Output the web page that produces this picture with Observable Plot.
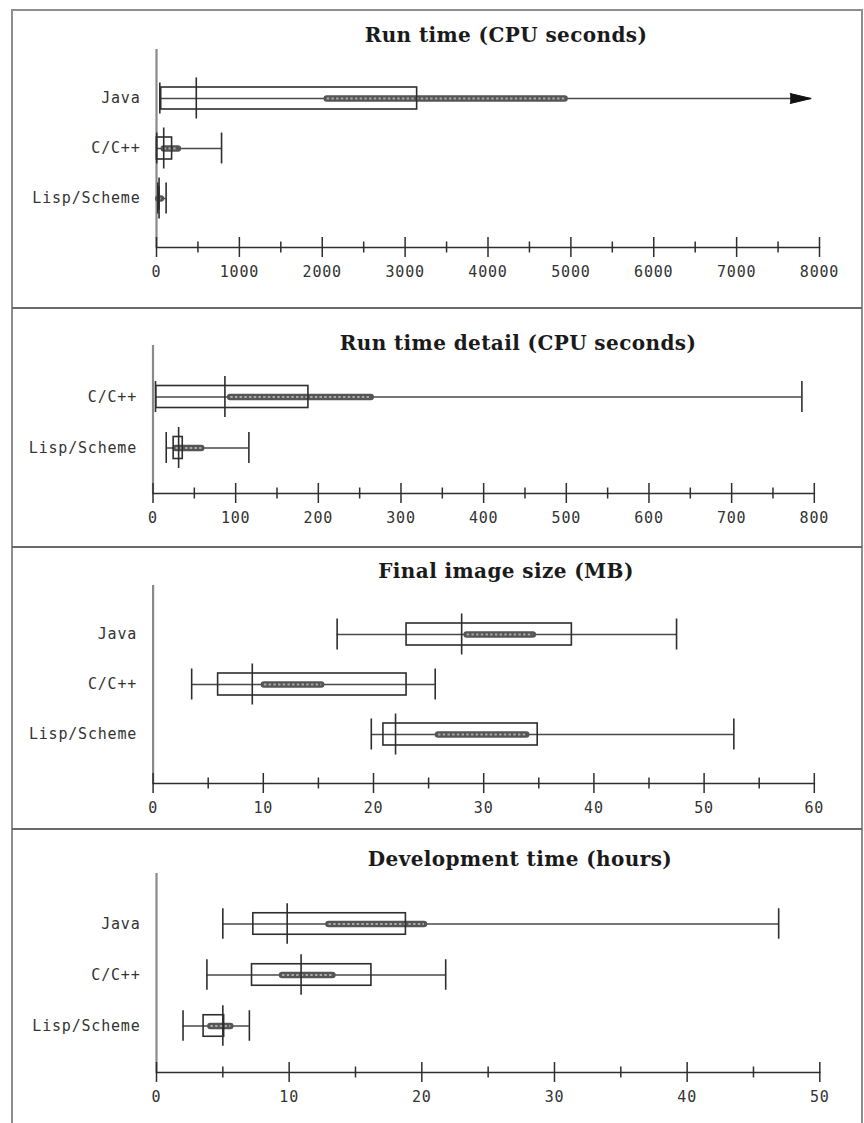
<!DOCTYPE html>
<html><head><meta charset="utf-8">
<script src="https://cdn.jsdelivr.net/npm/d3@7"></script>
<script src="https://cdn.jsdelivr.net/npm/@observablehq/plot@0.6"></script>
<style>
body{margin:0;background:#fff;}
#page{position:relative;width:864px;height:1123px;overflow:hidden;background:#fff;}
.frame{position:absolute;left:11px;top:9px;width:848px;height:1140px;border:2px solid #8e8e8e;box-sizing:content-box;}
.sep{position:absolute;left:12px;width:850px;height:2px;background:#6a6a6a;}
.title{position:absolute;transform:translate(-50%,-50%);font-family:"DejaVu Serif";font-weight:bold;font-size:20px;letter-spacing:0.4px;white-space:nowrap;color:#1a1a1a;}
.panel{position:absolute;left:0;}
</style></head><body><div id="page"><div class="frame"></div></div>
<script>
// ---------- data ----------
const titles = ["Run time (CPU seconds)", "Run time detail (CPU seconds)", "Final image size (MB)", "Development time (hours)"];

// Run time (CPU seconds)
const runCats   = ["Java", "C/C++", "Lisp/Scheme"];
const runLo     = [40, 3, 16];
const runQ1     = [57, 4, 25];
const runMed    = [480, 87, 31];
const runQ3     = [3145, 188, 36];
const runHi     = [7900, 785, 116];
const runBandLo = [2060, 94, 28];
const runBandHi = [4930, 264, 59];
const runArrow  = [7900, null, null];
const runTicks  = [0, 1000, 2000, 3000, 4000, 5000, 6000, 7000, 8000];
const runMinor  = [500, 1500, 2500, 3500, 4500, 5500, 6500, 7500];

// Run time detail (CPU seconds)
const detCats   = ["C/C++", "Lisp/Scheme"];
const detLo     = [3, 16];
const detQ1     = [4, 25];
const detMed    = [87, 31];
const detQ3     = [188, 36];
const detHi     = [785, 116];
const detBandLo = [94, 28];
const detBandHi = [264, 59];
const detTicks  = [0, 100, 200, 300, 400, 500, 600, 700, 800];
const detMinor  = [50, 150, 250, 350, 450, 550, 650, 750];

// Final image size (MB)
const imgCats   = ["Java", "C/C++", "Lisp/Scheme"];
const imgLo     = [16.7, 3.5, 19.8];
const imgQ1     = [23.0, 5.9, 20.9];
const imgMed    = [28.0, 9.0, 22.0];
const imgQ3     = [38.0, 23.0, 34.9];
const imgHi     = [47.5, 25.6, 52.7];
const imgBandLo = [28.5, 10.1, 25.9];
const imgBandHi = [34.5, 15.3, 33.9];
const imgTicks  = [0, 10, 20, 30, 40, 50, 60];
const imgMinor  = [5, 15, 25, 35, 45, 55];

// Development time (hours)
const devCats   = ["Java", "C/C++", "Lisp/Scheme"];
const devLo     = [5.0, 3.8, 2.0];
const devQ1     = [7.3, 7.2, 3.55];
const devMed    = [9.85, 10.9, 5.0];
const devQ3     = [18.8, 16.2, 5.1];
const devHi     = [46.9, 21.8, 7.0];
const devBandLo = [13.0, 9.5, 4.1];
const devBandHi = [20.2, 13.3, 5.6];
const devTicks  = [0, 10, 20, 30, 40, 50];
const devMinor  = [5, 15, 25, 35, 45];

// ---------- layout ----------
const panels = [
  {title: titles[0], tx: 506, ty: 35,  top: 10,  height: 298, ml: 156,   mr: 45,   mt: 39, mb: 61, rows: [88, 138, 188],
   cats: runCats, lo: runLo, q1: runQ1, med: runMed, q3: runQ3, hi: runHi, bLo: runBandLo, bHi: runBandHi, arrow: runArrow,
   domain: [0, 8000], major: runTicks, minor: runMinor},
  {title: titles[1], tx: 518, ty: 343, top: 308, height: 239, ml: 152.5, mr: 50.2, mt: 37, mb: 54, rows: [88, 139],
   cats: detCats, lo: detLo, q1: detQ1, med: detMed, q3: detQ3, hi: detHi, bLo: detBandLo, bHi: detBandHi, arrow: null,
   domain: [0, 800], major: detTicks, minor: detMinor},
  {title: titles[2], tx: 506, ty: 571, top: 547, height: 282, ml: 152.6, mr: 50.2, mt: 38, mb: 46, rows: [87, 137, 187],
   cats: imgCats, lo: imgLo, q1: imgQ1, med: imgMed, q3: imgQ3, hi: imgHi, bLo: imgBandLo, bHi: imgBandHi, arrow: null,
   domain: [0, 60], major: imgTicks, minor: imgMinor},
  {title: titles[3], tx: 520, ty: 859, top: 829, height: 294, ml: 156,   mr: 44.7, mt: 44, mb: 51, rows: [94, 145, 197],
   cats: devCats, lo: devLo, q1: devQ1, med: devMed, q3: devQ3, hi: devHi, bLo: devBandLo, bHi: devBandHi, arrow: null,
   domain: [0, 50], major: devTicks, minor: devMinor}
];

const page = document.getElementById("page");
const seps = [308, 547, 829];
for (const y of seps) {
  const d = document.createElement("div");
  d.className = "sep"; d.style.top = (y - 1) + "px";
  page.appendChild(d);
}

for (const P of panels) {
  const rows = P.cats.map((c, i) => ({cat: c, lo: P.lo[i], q1: P.q1[i], med: P.med[i], q3: P.q3[i], hi: P.hi[i],
    bLo: P.bLo[i], bHi: P.bHi[i], arrow: P.arrow ? P.arrow[i] : null}));
  const capped = rows.filter(d => d.arrow == null);
  const arrowed = rows.filter(d => d.arrow != null);
  const n = P.rows.length;
  const s = (P.rows[n - 1] - P.rows[0]) / (n - 1);
  const fh = P.height - P.mt - P.mb;
  const inset = h => s / 2 - h;
  const ink = "#2e2e2e";
  let arrowMark;
  try {
    arrowMark = Plot.vector(arrowed, {y: "cat", x: "arrow", shape: "spike", anchor: "end", rotate: 90, length: 21, r: 5,
      fill: "#111", stroke: "#111", strokeWidth: 1});
  } catch (e) {
    arrowMark = Plot.dot(arrowed, {y: "cat", x: "arrow", symbol: "triangle", r: 5, rotate: 90, dx: -5, fill: "#111", stroke: "#111"});
  }
  const chart = Plot.plot({
    width: 864, height: P.height,
    marginLeft: P.ml, marginRight: P.mr, marginTop: P.mt, marginBottom: P.mb,
    x: {domain: P.domain, axis: null},
    y: {type: "band", domain: P.cats, range: [P.rows[0] - s / 2, P.rows[n - 1] + s / 2], padding: 0, axis: null},
    style: {fontFamily: "DejaVu Sans Mono", fontSize: "15px", letterSpacing: "0.8px", background: "transparent", overflow: "visible"},
    marks: [
      // axes
      Plot.ruleX([0], {stroke: "#8a8a8a", strokeWidth: 2.2}),
      Plot.frame({anchor: "bottom", stroke: ink, strokeWidth: 1.6}),
      Plot.tickX(P.major, {x: d => d, insetTop: fh - 10, insetBottom: -10, stroke: ink, strokeWidth: 1.5}),
      Plot.tickX(P.minor, {x: d => d, insetTop: fh - 5.5, insetBottom: -5.5, stroke: ink, strokeWidth: 1.5}),
      Plot.text(P.major, {x: d => d, text: d => String(d), frameAnchor: "bottom", dy: 29, fill: "#333"}),
      Plot.text(P.cats, {y: d => d, text: d => d, frameAnchor: "left", dx: -16, textAnchor: "end", fill: "#333"}),
      // whiskers
      Plot.ruleY(rows, {y: "cat", x1: "lo", x2: "hi", stroke: "#484848", strokeWidth: 1.6}),
      Plot.tickX(rows, {y: "cat", x: "lo", insetTop: inset(15.5), insetBottom: inset(15.5), stroke: ink, strokeWidth: 1.6}),
      Plot.tickX(capped, {y: "cat", x: "hi", insetTop: inset(15.5), insetBottom: inset(15.5), stroke: ink, strokeWidth: 1.6}),
      // grey band (mean +/- SE)
      Plot.ruleY(rows, {y: "cat", x1: "bLo", x2: "bHi", stroke: "#555", strokeWidth: 6.5, strokeLinecap: "round"}),
      Plot.ruleY(rows, {y: "cat", x1: "bLo", x2: "bHi", stroke: "#a8a8a8", strokeWidth: 2, strokeDasharray: "2.5 2.2"}),
      // box
      Plot.barX(rows, {y: "cat", x1: "q1", x2: "q3", fill: "none", stroke: ink, strokeWidth: 1.6, insetTop: inset(11), insetBottom: inset(11)}),
      // median
      Plot.tickX(rows, {y: "cat", x: "med", insetTop: inset(20.5), insetBottom: inset(20.5), stroke: ink, strokeWidth: 1.6}),
      // arrow: whisker continues beyond the plotted range
      arrowMark
    ]
  });
  const wrap = document.createElement("div");
  wrap.className = "panel"; wrap.style.top = P.top + "px";
  wrap.appendChild(chart);
  page.appendChild(wrap);
  const t = document.createElement("div");
  t.className = "title"; t.textContent = P.title;
  t.style.left = P.tx + "px"; t.style.top = P.ty + "px";
  page.appendChild(t);
}
</script>
</body></html>
